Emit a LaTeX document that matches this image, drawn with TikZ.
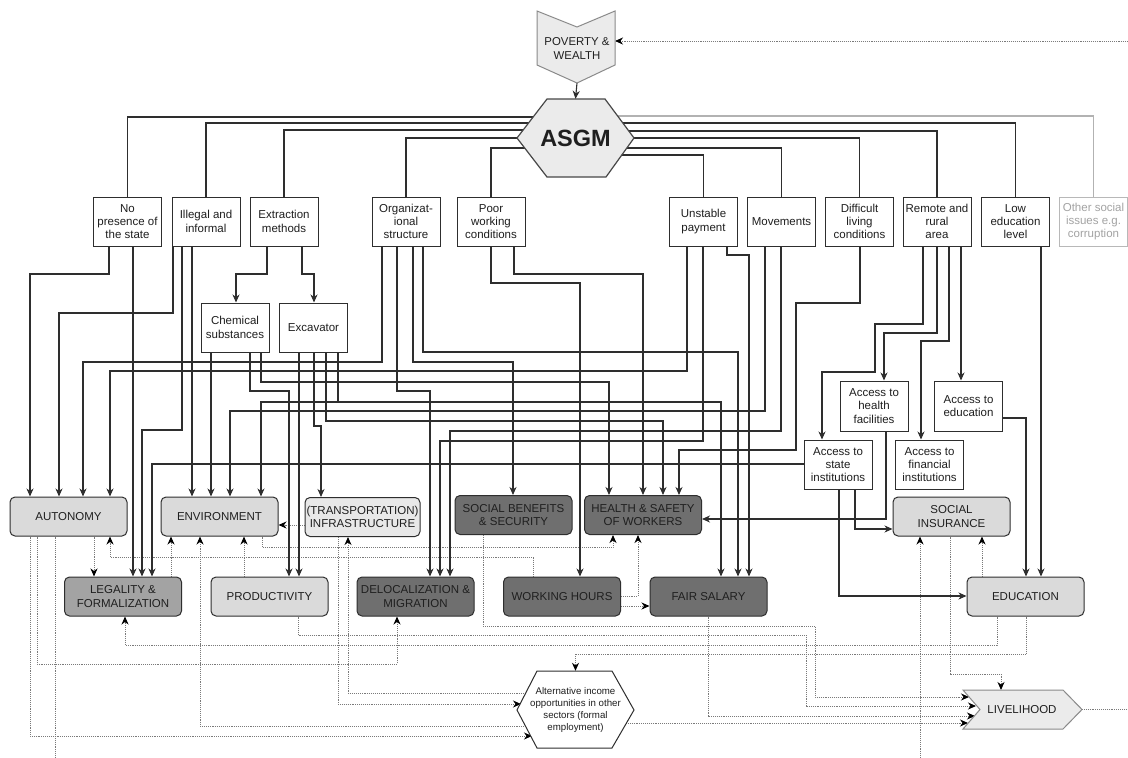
\documentclass[tikz,border=0pt]{standalone}
\usepackage{fontspec}
\setmainfont{Liberation Sans}
\usetikzlibrary{arrows.meta,backgrounds}
\definecolor{catlight}{HTML}{DADADA}
\definecolor{infrafill}{HTML}{E8E8E8}
\definecolor{legalfill}{HTML}{A3A3A3}
\definecolor{darkfill}{HTML}{6F6F6F}
\definecolor{shapefill}{HTML}{EBEBEB}
\definecolor{shapeline}{HTML}{8A8A8A}
\definecolor{lineclr}{HTML}{2E2E2E}
\definecolor{dotclr}{HTML}{7A7A7A}
\begin{document}
\begin{tikzpicture}[x=1pt,y=-1pt,
  tipa/.tip={Stealth[length=8pt,width=7pt,inset=2.5pt]},
  sol/.style={draw=lineclr, line width=1.1pt, -tipa},
  soln/.style={draw=lineclr, line width=1.1pt},
  dotl/.style={draw=dotclr, line width=1pt, dash pattern=on 1pt off 0.9pt, -{tipa[black]}},
  dotn/.style={draw=dotclr, line width=1pt, dash pattern=on 1pt off 0.9pt},
  box/.style={draw=lineclr, line width=1pt, fill=white, align=center, text=black!88,
    font=\fontsize{11.5}{13.3}\selectfont, minimum width=68pt, minimum height=49pt, inner sep=1pt},
  cat/.style={draw=lineclr, line width=1pt, rounded corners=5pt, align=center, text=black!88,
    font=\fontsize{11.5}{13.3}\selectfont, minimum width=117pt, minimum height=39pt, inner sep=1pt},
  plain/.style={align=center, inner sep=0pt, text=black!88}
]
\useasboundingbox (0,0) rectangle (1128,758);

% ---------- shapes ----------
\draw[shapeline, line width=1pt, fill=shapefill] (537,11) -- (577,27) -- (615,11) -- (615,65) -- (577,83) -- (537,65) -- cycle;
\node[plain, font=\fontsize{11.4}{13.3}\selectfont, minimum width=72pt, minimum height=71pt] (pov) at (577,48.5) {POVERTY \&\\WEALTH};
\coordinate (povb) at (577,83);
\coordinate (povr) at (615,41);

\draw[black!72, line width=1.2pt, fill=shapefill] (517,138) -- (547,99) -- (605,99) -- (634,138) -- (606,177) -- (547,177) -- cycle;
\node[plain, font=\bfseries\fontsize{23.5}{26}\selectfont, minimum width=117pt, minimum height=78pt] (asgm) at (575.5,138) {ASGM};

\draw[lineclr, line width=1pt, fill=white] (517,710) -- (537,671) -- (612,671) -- (634,710) -- (612,748) -- (537,748) -- cycle;
\node[plain, font=\fontsize{9.7}{12}\selectfont, minimum width=117pt, minimum height=77pt] (alt) at (575.5,709.5) {Alternative income\\opportunities in other\\sectors (formal\\employment)};
\coordinate (a1) at (526,693);
\coordinate (a2) at (521,704);
\coordinate (a3) at (526,726);
\coordinate (a4) at (532,736);
\coordinate (a5) at (626,723);

\draw[shapeline, line width=1pt, fill=shapefill] (963,690) -- (1063,690) -- (1082,709.5) -- (1063,729) -- (963,729) -- (980,709.5) -- cycle;
\node[plain, font=\fontsize{11.5}{13.3}\selectfont, minimum width=100pt, minimum height=39pt] (liv) at (1022,709.5) {LIVELIHOOD};
\coordinate (l1) at (969,697);
\coordinate (l2) at (976,706);
\coordinate (l3) at (975,716);
\coordinate (l4) at (968,723);
\coordinate (livtip) at (1082,709.5);
\coordinate (re1) at (1128,709.5);
\coordinate (re2) at (1128,41);
\coordinate (bot1) at (55,758);
\coordinate (bot2) at (920,758);

% ---------- driver boxes ----------
\node[box] (nopres) at (127.5,221.5) {No\\presence of\\the state};
\node[box] (illegal) at (206,221.5) {Illegal and\\informal};
\node[box] (extr) at (284,221.5) {Extraction\\methods};
\node[box] (org) at (406,221.5) {Organizat-\\ional\\structure};
\node[box] (poor) at (491,221.5) {Poor\\working\\conditions};
\node[box] (unst) at (703.5,221.5) {Unstable\\payment};
\node[box] (mov) at (781.5,221.5) {Movements};
\node[box] (diff) at (859.5,221.5) {Difficult\\living\\conditions};
\node[box] (remote) at (937,221.5) {Remote and\\rural\\area};
\node[box] (lowedu) at (1015.5,221.5) {Low\\education\\level};
\node[box, draw=black!28, text=black!36] (other) at (1093.5,221.5) {Other social\\issues e.g.\\corruption};

\node[box] (chem) at (235,327.5) {Chemical\\substances};
\node[box] (excav) at (313.5,327.5) {Excavator};

\node[box, minimum height=50pt] (acchealth) at (874,406) {Access to\\health\\facilities};
\node[box, minimum height=50pt] (accedu) at (968.5,406) {Access to\\education};
\node[box] (accstate) at (838,464.5) {Access to\\state\\institutions};
\node[box] (accfin) at (929.5,464.5) {Access to\\financial\\institutions};

% ---------- category boxes ----------
\node[cat, fill=catlight] (auton) at (68.5,516.5) {AUTONOMY};
\node[cat, fill=catlight] (env) at (219.5,516.5) {ENVIRONMENT};
\node[cat, fill=infrafill, minimum width=115pt] (infra) at (362.5,517) {(TRANSPORTATION)\\INFRASTRUCTURE};
\node[cat, fill=darkfill] (socben) at (513.5,515) {SOCIAL BENEFITS\\\& SECURITY};
\node[cat, fill=darkfill] (health) at (643,515) {HEALTH \& SAFETY\\OF WORKERS};
\node[cat, fill=catlight] (socins) at (951.5,516.5) {SOCIAL\\INSURANCE};
\node[cat, fill=legalfill] (legal) at (123,596.5) {LEGALITY \&\\FORMALIZATION};
\node[cat, fill=catlight] (prod) at (269.5,596.5) {PRODUCTIVITY};
\node[cat, fill=darkfill] (deloc) at (415.5,596.5) {DELOCALIZATION \&\\MIGRATION};
\node[cat, fill=darkfill] (workh) at (562,596.5) {WORKING HOURS};
\node[cat, fill=darkfill] (fair) at (708.5,596.5) {FAIR SALARY};
\node[cat, fill=catlight] (educ) at (1025.5,596.5) {EDUCATION};

\begin{scope}[on background layer]
\fill[white] (0,0) rectangle (1128,758);

% ---------- dotted connectors ----------
\draw[dotl] (infra.west |- 0,525) -- (env.east |- 0,525);
\draw[dotl] (94,0 |- auton.south) -- (94,0 |- legal.north);
\draw[dotl] (171,0 |- legal.north) -- (171,0 |- env.south);
\draw[dotl] (533,0 |- workh.north) -- (533,557) -- (110,557) -- (110,0 |- auton.south);
\draw[dotl] (244,0 |- prod.north) -- (244,0 |- env.south);
\draw[dotl] (262,0 |- env.south) -- (262,547) -- (613,547) -- (613,0 |- health.south);
\draw[dotl] (a3) -- (200,726) -- (200,0 |- env.south);
\draw[dotl] (a1) -- (348,693) -- (348,0 |- infra.south);
\draw[dotl] (338,0 |- infra.south) -- (338,704) -- (a2);
\draw[dotl] (30,0 |- auton.south) -- (30,736) -- (a4);
\draw[dotn] (55,0 |- auton.south) -- (bot1);
\draw[dotl] (37,0 |- auton.south) -- (37,664) -- (397,664) -- (397,0 |- deloc.south);
\draw[dotl] (997,0 |- educ.south) -- (997,645) -- (125,645) -- (125,0 |- legal.south);
\draw[dotl] (1026,0 |- educ.south) -- (1026,654) -- (575.5,654) -- (alt.north);
\draw[dotl] (483,0 |- socben.south) -- (483,626) -- (815,626) -- (815,697) -- (l1);
\draw[dotl] (298,0 |- prod.south) -- (298,635) -- (806,635) -- (806,706) -- (l2);
\draw[dotl] (708,0 |- fair.south) -- (708,716) -- (l3);
\draw[dotl] (a5) -- (l4);
\draw[dotl] (950,0 |- socins.south) -- (950,674) -- (1001,674) -- (1001,690);
\draw[dotl] (982,0 |- educ.north) -- (982,0 |- socins.south);
\draw[dotl] (bot2) -- (920,0 |- socins.south);
\draw[dotl] (workh.east |- 0,596) -- (638,596) -- (638,0 |- health.south);
\draw[dotl] (workh.east |- 0,606) -- (fair.west |- 0,606);
\draw[dotn] (livtip) -- (re1);
\draw[dotl] (re2) -- (povr);

% ---------- ASGM to drivers ----------
\draw[sol] (povb) -- (asgm.north);
\draw[soln] (asgm.center |- 0,117) -| (nopres.north);
\draw[soln] (asgm.center |- 0,123) -| (illegal.north);
\draw[soln] (asgm.center |- 0,130) -| (extr.north);
\draw[soln] (asgm.center |- 0,138) -| (org.north);
\draw[soln] (asgm.center |- 0,148) -| (poor.north);
\draw[draw=black!30, line width=1.1pt] (asgm.center |- 0,116) -| (other.north);
\draw[soln] (asgm.center |- 0,123) -| (lowedu.north);
\draw[soln] (asgm.center |- 0,131) -| (remote.north);
\draw[soln] (asgm.center |- 0,138) -| (diff.north);
\draw[soln] (asgm.center |- 0,148) -| (mov.north);
\draw[soln] (asgm.center |- 0,155) -| (unst.north);

% ---------- solid connectors ----------
\draw[sol] (109,0 |- nopres.south) -- (109,274) -- (30,274) -- (30,0 |- auton.north);
\draw[sol] (133,0 |- nopres.south) -- (133,0 |- legal.north);
\draw[sol] (173,0 |- illegal.south) -- (173,313) -- (59,313) -- (59,0 |- auton.north);
\draw[sol] (182,0 |- illegal.south) -- (182,430) -- (142,430) -- (142,0 |- legal.north);
\draw[sol] (192,0 |- illegal.south) -- (192,0 |- env.north);
\draw[sol] (267,0 |- extr.south) -- (267,274) -- (236,274) -- (236,0 |- chem.north);
\draw[sol] (302,0 |- extr.south) -- (302,274) -- (314,274) -- (314,0 |- excav.north);
\draw[sol] (211,0 |- chem.south) -- (211,0 |- env.north);
\draw[sol] (250,0 |- chem.south) -- (250,391) -- (289,391) -- (289,0 |- prod.north);
\draw[sol] (261,0 |- chem.south) -- (261,382) -- (609,382) -- (609,0 |- health.north);
\draw[sol] (299,0 |- excav.south) -- (299,0 |- prod.north);
\draw[sol] (314,0 |- excav.south) -- (314,426) -- (321,426) -- (321,0 |- infra.north);
\draw[sol] (326,0 |- excav.south) -- (326,421) -- (663,421) -- (663,0 |- health.north);
\draw[sol] (338,0 |- excav.south) -- (338,402) -- (261,402) -- (261,0 |- env.north);
\draw[sol] (338,0 |- excav.south) -- (338,402) -- (721,402) -- (721,0 |- fair.north);
\draw[sol] (382,0 |- org.south) -- (382,362) -- (83,362) -- (83,0 |- auton.north);
\draw[sol] (397,0 |- org.south) -- (397,391) -- (430,391) -- (430,0 |- deloc.north);
\draw[sol] (413,0 |- org.south) -- (413,362) -- (513,362) -- (513,0 |- socben.north);
\draw[sol] (423,0 |- org.south) -- (423,352) -- (738,352) -- (738,0 |- fair.north);
\draw[sol] (491,0 |- poor.south) -- (491,283) -- (580,283) -- (580,0 |- workh.north);
\draw[sol] (514,0 |- poor.south) -- (514,274) -- (643,274) -- (643,0 |- health.north);
\draw[sol] (687,0 |- unst.south) -- (687,371) -- (110,371) -- (110,0 |- auton.north);
\draw[sol] (703,0 |- unst.south) -- (703,441) -- (440,441) -- (440,0 |- deloc.north);
\draw[sol] (727,0 |- unst.south) -- (727,255) -- (749,255) -- (749,0 |- fair.north);
\draw[sol] (765,0 |- mov.south) -- (765,411) -- (230,411) -- (230,0 |- env.north);
\draw[sol] (781,0 |- mov.south) -- (781,431) -- (450,431) -- (450,0 |- deloc.north);
\draw[sol] (860,0 |- diff.south) -- (860,303) -- (796,303) -- (796,450) -- (679,450) -- (679,0 |- health.north);
\draw[sol] (923,0 |- remote.south) -- (923,324) -- (875,324) -- (875,372) -- (822,372) -- (822,0 |- accstate.north);
\draw[sol] (937,0 |- remote.south) -- (937,333) -- (884,333) -- (884,0 |- acchealth.north);
\draw[sol] (949,0 |- remote.south) -- (949,341) -- (921,341) -- (921,0 |- accfin.north);
\draw[sol] (961,0 |- remote.south) -- (961,0 |- accedu.north);
\draw[sol] (1041,0 |- lowedu.south) -- (1041,0 |- educ.north);
\draw[sol] (accedu.east |- 0,418) -- (1026,418) -- (1026,0 |- educ.north);
\draw[sol] (886,0 |- acchealth.south) -- (886,519) -- (health.east |- 0,519);
\draw[sol] (accstate.west |- 0,464) -- (152,464) -- (152,0 |- legal.north);
\draw[sol] (839,0 |- accstate.south) -- (839,596) -- (educ.west |- 0,596);
\draw[sol] (855,0 |- accstate.south) -- (855,529) -- (socins.west |- 0,529);
\end{scope}
\end{tikzpicture}
\end{document}
